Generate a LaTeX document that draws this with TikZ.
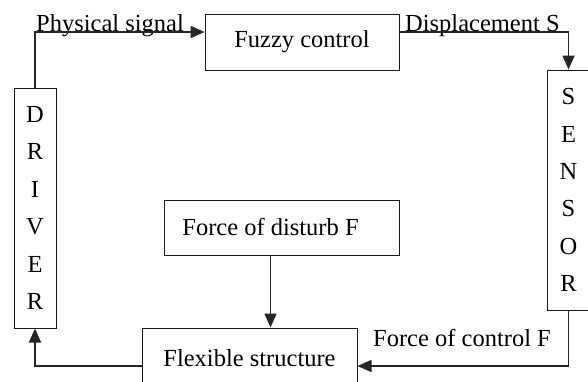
\documentclass[tikz,border=0pt]{standalone}
\usepackage{fontspec}
\setmainfont{Liberation Serif}
\usetikzlibrary{arrows.meta}
\begin{document}
\begin{tikzpicture}[x=1pt,y=-1pt,
  every node/.style={font=\fontsize{24.5}{29}\selectfont, text=black},
  box/.style={draw=black!90, line width=1pt, inner sep=0pt},
  conn/.style={draw=black!85, line width=1.6pt},
  arr/.style={conn, -{Triangle[length=14pt,width=12pt]}},
  lbl/.style={anchor=base west, inner sep=0pt},
  vtext/.style={align=center, font=\fontsize{24.5}{37.4}\selectfont}]
\clip (0,0) rectangle (588,381);
\fill[white] (0,0) rectangle (588,381);
\node[box, minimum width=194pt, minimum height=56pt] (fuzzy) at (302,42) {Fuzzy control};
\node[box, minimum width=42pt, minimum height=240pt, vtext] (driver) at (35,208) {D\\R\\I\\V\\E\\R};
\node[box, minimum width=43pt, minimum height=240pt, vtext] (sensor) at (568.5,190) {S\\E\\N\\S\\O\\R};
\node[box, minimum width=235pt, minimum height=55pt] (disturb) at (281.5,227.5) {};
\node[anchor=base, inner sep=0pt] (disturbtxt) at (270.5,235) {Force of disturb F};
\node[box, minimum width=215pt, minimum height=60pt] (flex) at (249.5,358) {Flexible structure};
\node[lbl] (physlbl) at (36,31) {Physical signal};
\node[lbl] (displbl) at (405,31) {Displacement S};
\node[lbl] (forcelbl) at (373,346) {Force of control F};
\draw[arr] (driver.north) |- ([yshift=10pt]fuzzy.west);
\draw[arr] ([yshift=10pt]fuzzy.east) -| (sensor.north);
\draw[arr] (sensor.south) |- ([yshift=-8pt]flex.east);
\draw[arr] ([yshift=-8pt]flex.west) -| (driver.south);
\draw[arr] (disturbtxt |- disturb.south) -- (disturbtxt |- flex.north);
\end{tikzpicture}
\end{document}
